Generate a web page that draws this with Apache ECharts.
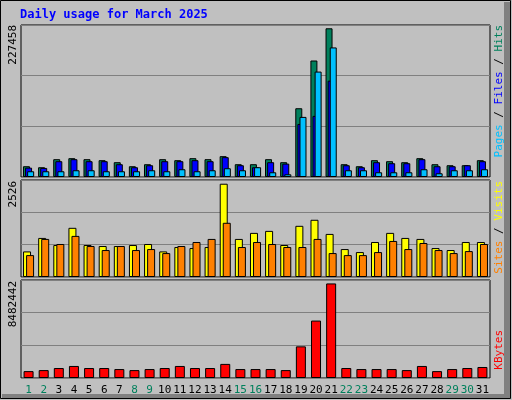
<!DOCTYPE html>
<html>
<head>
<meta charset="utf-8">
<script src="https://cdn.jsdelivr.net/npm/echarts@6/dist/echarts.min.js"></script>
<style>html,body{margin:0;padding:0;background:#c0c0c0}#chart{width:512px;height:400px}</style>
</head>
<body>
<div id="chart"></div>
<script>
var days = ['1','2','3','4','5','6','7','8','9','10','11','12','13','14','15','16','17','18','19','20','21','22','23','24','25','26','27','28','29','30','31'];
var weekend = ['1','2','8','9','15','16','22','23','29','30'];
var hits = [16478,14938,27258,28798,27258,25718,22638,16478,19558,27258,25718,28798,27258,31878,19558,19558,27258,22638,105182,178178,227458,19558,16478,25718,24178,22638,28798,19558,18018,18018,25718];
var files = [14322,13860,24178,27258,24178,24178,19558,14938,18018,24178,24178,25718,24178,30338,18018,14938,22638,20482,81158,93478,147378,18018,14938,22638,21098,21098,27258,16478,16478,18018,24178];
var pages = [8778,8778,8778,10318,10318,8778,8778,8778,10318,8778,11858,8778,10318,13398,10318,14938,7238,4158,91938,161238,198198,10318,10318,7238,7238,7238,11858,5698,10318,10318,11858];
var visits = [693,1058,866,1332,866,839,839,866,894,693,812,784,812,2526,1031,1195,1249,866,1386,1550,1167,757,675,948,1195,1058,1031,784,730,948,948];
var sites = [593,1031,894,1113,839,730,839,730,757,648,839,948,1031,1468,812,948,894,812,812,1031,648,593,593,675,976,757,921,730,648,702,894];
var kbytes = [617000,709000,895000,1080000,895000,895000,802000,709000,802000,895000,1080000,895000,895000,1265000,802000,802000,802000,709000,2838000,5151000,8482442,895000,802000,802000,802000,709000,1080000,617000,802000,895000,987000];

var font = '"DejaVu Sans Mono", monospace';
var hitsMax = 232500, visitsMax = 2627, kbMax = 8790000;

function grid(top, height) {
  return {left: 21, right: 22, top: top, height: height, show: true,
    backgroundColor: '#c0c0c0', borderColor: '#000', borderWidth: 1};
}
function xAx(i, showLabels) {
  return {type: 'category', gridIndex: i, data: days,
    axisLine: {show: false}, axisTick: {show: false},
    axisLabel: {show: showLabels, fontFamily: font, fontSize: 11, margin: 7, interval: 0,
      color: function(v) { return weekend.indexOf(v) >= 0 ? '#00805c' : '#000'; }}};
}
function yAx(i, max) {
  return {type: 'value', gridIndex: i, min: 0, max: max, interval: max / 3,
    axisLabel: {show: false}, axisLine: {show: false}, axisTick: {show: false},
    splitLine: {lineStyle: {color: '#808080', width: 1}}};
}
function bar(name, data, color, i, width, gap) {
  return {name: name, type: 'bar', xAxisIndex: i, yAxisIndex: i, data: data,
    barWidth: width, barGap: gap, animation: false,
    itemStyle: {color: color, borderColor: '#000', borderWidth: 1}};
}
function vtext(x, y, rich, text) {
  return {type: 'text', x: x, y: y, rotation: Math.PI / 2,
    style: {text: text, rich: rich, font: '11px ' + font, align: 'right', verticalAlign: 'middle'}};
}

var chart = echarts.init(document.getElementById('chart'));
chart.setOption({
  backgroundColor: '#c0c0c0',
  grid: [grid(25, 152), grid(180, 97), grid(280, 98)],
  xAxis: [xAx(0, false), xAx(1, false), xAx(2, true)],
  yAxis: [yAx(0, hitsMax), yAx(1, visitsMax), yAx(2, kbMax)],
  series: [
    bar('Hits', hits, '#00805c', 0, 7, '-70%'),
    bar('Files', files, '#0000ff', 0, 7, '-70%'),
    bar('Pages', pages, '#00c0ff', 0, 7, '-70%'),
    bar('Visits', visits, '#ffff00', 1, 8, '-62%'),
    bar('Sites', sites, '#ff8000', 1, 8, '-62%'),
    bar('KBytes', kbytes, '#ff0000', 2, 10, '0%')
  ],
  graphic: [
    {type: 'rect', shape: {x: 0.5, y: 0.5, width: 510, height: 398},
      style: {fill: 'none', stroke: '#000', lineWidth: 1}},
    {type: 'rect', shape: {x: 504, y: 2, width: 6, height: 396}, style: {fill: '#808080'}},
    {type: 'rect', shape: {x: 2, y: 394, width: 508, height: 4}, style: {fill: '#808080'}},
    {type: 'text', x: 20, y: 9,
      style: {text: 'Daily usage for March 2025', font: 'bold 12px ' + font, fill: '#0000ff'}},
    vtext(13, 25, null, '227458'),
    vtext(13, 181, null, '2526'),
    vtext(13, 281, null, '8482442'),
    vtext(499, 25, {p: {fill: '#00c0ff'}, s: {fill: '#000'}, f: {fill: '#0000ff'}, h: {fill: '#00805c'}},
      '{p|Pages}{s| / }{f|Files}{s| / }{h|Hits}'),
    vtext(499, 181, {a: {fill: '#ff8000'}, s: {fill: '#000'}, b: {fill: '#ffff00'}},
      '{a|Sites}{s| / }{b|Visits}'),
    vtext(499, 330, {k: {fill: '#ff0000'}}, '{k|KBytes}')
  ]
});
</script>
</body>
</html>
